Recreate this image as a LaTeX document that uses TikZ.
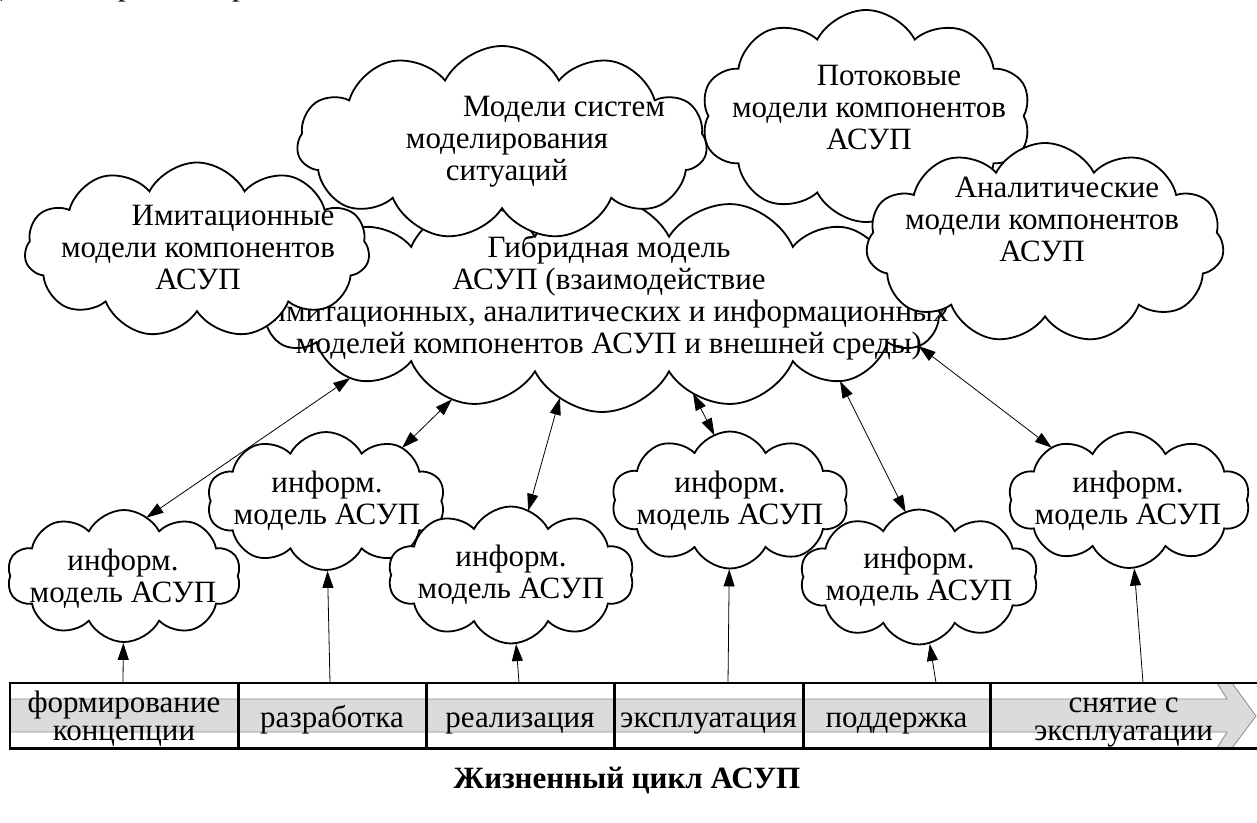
\documentclass[tikz,border=0pt]{standalone}
\usepackage{fontspec}
\setmainfont{Liberation Serif}
\usetikzlibrary{shapes.symbols,arrows.meta,calc,intersections}
\newcommand{\hlinkarrow}[5]{%
  \coordinate (A#1) at ($(i#1)+(#2,#3)$);
  \coordinate (B#1) at ($(hyb)+(#4,#5)$);
  \path[name path=la#1] ($(A#1)!0.5!(B#1)$) -- ($(B#1)!1.8!(A#1)$);
  \path[name path=lb#1] ($(A#1)!0.5!(B#1)$) -- ($(A#1)!1.8!(B#1)$);
  \path[name intersections={of=ip#1 and la#1, sort by=la#1, name=pa#1}];
  \path[name intersections={of=hybp and lb#1, sort by=lb#1, name=pb#1}];
  \draw[dbl] (pa#1-1) -- (pb#1-1);
}
\begin{document}
\begin{tikzpicture}[x=1pt,y=-1pt,
  cl/.style={cloud, draw=black, fill=white, line width=1.8pt, cloud puffs=#1, cloud puff arc=125, cloud ignores aspect, inner sep=0pt},
  txt/.style={font=\fontsize{31}{32}\selectfont, align=center, inner sep=0pt},
  tip/.tip={Triangle[length=17pt,width=11pt]},
  dbl/.style={line width=0.8pt, tip-tip},
  arr/.style={line width=0.8pt, -tip},
  stage/.style={minimum height=65pt, inner sep=0pt, font=\fontsize{31}{28}\selectfont, align=center},
  one/.style={text height=26pt, text depth=3pt},
  barline/.style={line width=2.6pt, line cap=rect},
  band/.style={fill=black!14, draw=black!45, line width=0.8pt}
]
\useasboundingbox (0,0) rectangle (1257,822);

% fragments of the preceding text line (only descenders visible)
\node[txt, anchor=base west] (fa) at (-13,-5) {д};
\node[txt, anchor=base west] (fb) at (118,-5) {р};
\node[txt, anchor=base west] (fc) at (232,-5) {р};

% hybrid model
\node[cl=16, minimum width=690pt, minimum height=216pt, name path=hybp] (hyb) at (602,304) {};
\node[txt] (hybt) at (609,298) {Гибридная модель\\АСУП (взаимодействие\\имитационных, аналитических и информационных\\моделей компонентов АСУП и внешней среды)};

% upper clouds
\node[cl=11, minimum width=345pt, minimum height=175pt] (imi) at (197,250) {};
\node[txt] (imit) at (198,247) {\hspace*{70pt}Имитационные\\модели компонентов\\АСУП};

\node[cl=11, minimum width=410pt, minimum height=194pt] (sit) at (502,143) {};
\node[txt] (sitt) at (507,142) {\hspace*{114pt}Модели систем\\моделирования\\ситуаций};

\node[cl=10, minimum width=330pt, minimum height=212pt] (pot) at (866,116) {};
\node[txt] (pott) at (869,107) {\hspace*{40pt}Потоковые\\модели компонентов\\АСУП};

\node[cl=11, minimum width=358pt, minimum height=200pt] (ana) at (1045,243) {};
\node[txt] (anat) at (1042,219) {\hspace*{30pt}Аналитические\\модели компонентов\\АСУП};

% information models
\node[cl=10, minimum width=234pt, minimum height=132pt, name path=ip1] (i1) at (124,576) {};
\node[txt] (i1t) at (123,579) {информ.\\модель АСУП};
\node[cl=10, minimum width=238pt, minimum height=138pt, name path=ip2] (i2) at (326,501) {};
\node[txt] (i2t) at (327,501) {информ.\\модель АСУП};
\node[cl=10, minimum width=246pt, minimum height=137pt, name path=ip3] (i3) at (511,575) {};
\node[txt] (i3t) at (511,575) {информ.\\модель АСУП};
\node[cl=10, minimum width=237pt, minimum height=137pt, name path=ip4] (i4) at (730,500) {};
\node[txt] (i4t) at (730,501) {информ.\\модель АСУП};
\node[cl=10, minimum width=238pt, minimum height=135pt, name path=ip5] (i5) at (919,577) {};
\node[txt] (i5t) at (919,577) {информ.\\модель АСУП};
\node[cl=10, minimum width=242pt, minimum height=136pt, name path=ip6] (i6) at (1129,500) {};
\node[txt] (i6t) at (1128,501) {информ.\\модель АСУП};

% links to hybrid model (cut at both cloud outlines)
\hlinkarrow{1}{19}{-56}{-262}{81}
\hlinkarrow{2}{77}{-54}{-161}{106}
\hlinkarrow{3}{14}{-53}{-52}{129}
\hlinkarrow{4}{-8}{-50}{98}{103}
\hlinkarrow{5}{-7}{-52}{241}{83}
\hlinkarrow{6}{-52}{-33}{331}{53}

% life cycle bar
\filldraw[band] (10,699) -- (1227,699) -- (1217,683) -- (1232,683) -- (1256,716)
  -- (1232,748) -- (1217,748) -- (1227,732) -- (10,732) -- cycle;
\node[stage, minimum width=228pt] (s1) at (124,715.5) {\rule{0pt}{29pt}формирование\\концепции\rule[-8pt]{0pt}{8pt}};
\node[stage, one, minimum width=188pt] (s2) at (332,715.5) {разработка};
\node[stage, one, minimum width=188pt] (s3) at (520,715.5) {реализация};
\node[stage, one, minimum width=189pt] (s4) at (708.5,715.5) {эксплуатация};
\node[stage, one, minimum width=187pt] (s5) at (896.5,715.5) {поддержка};
\node[stage, minimum width=267pt] (s6) at (1123.5,715.5) {\rule{0pt}{29pt}снятие с\\эксплуатации\rule[-8pt]{0pt}{8pt}};
\draw[barline] (s1.north west) -- (s6.north east);
\draw[barline] (s1.south west) -- (s6.south east);
\draw[barline] (s1.north west) -- (s1.south west);
\foreach \s in {s1,s2,s3,s4,s5} \draw[barline] (\s.north east) -- (\s.south east);

% links from stages
\draw[arr] ([xshift=-1pt]s1.north) -- (i1);
\draw[arr] ([xshift=-2pt]s2.north) -- (i2);
\draw[arr] ([xshift=-1pt]s3.north) -- (i3);
\draw[arr] ([xshift=19.5pt]s4.north) -- (i4);
\draw[arr] ([xshift=39.5pt]s5.north) -- (i5);
\draw[arr] ([xshift=19.5pt]s6.north) -- (i6);

\node[font=\bfseries\fontsize{31}{32}\selectfont, anchor=base] (cap) at (627,788) {Жизненный цикл АСУП};
\end{tikzpicture}
\end{document}
